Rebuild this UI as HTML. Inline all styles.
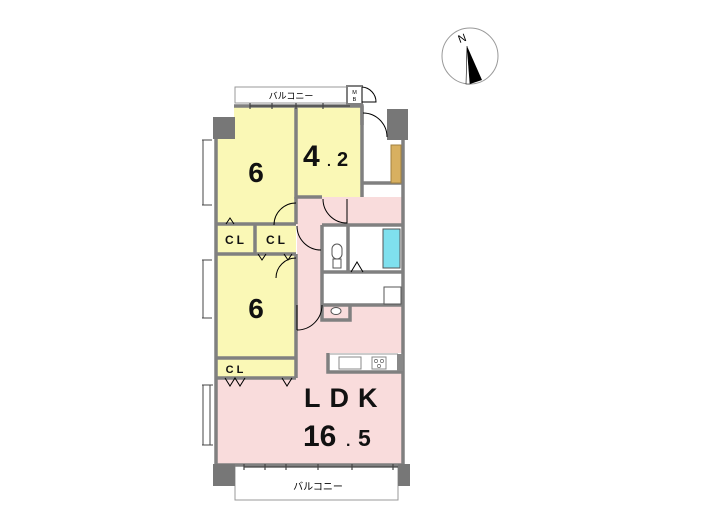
<!DOCTYPE html>
<html><head><meta charset="utf-8"><style>
html,body{margin:0;padding:0;background:#fff;}
svg{display:block;}
text{font-family:"Liberation Sans","Noto Sans CJK JP",sans-serif;}
</style></head><body>
<svg width="705" height="525" viewBox="0 0 705 525" xmlns="http://www.w3.org/2000/svg">
<!-- compass -->
<circle cx="470" cy="56" r="28" fill="none" stroke="#999" stroke-width="1"/>
<text x="458" y="42" font-family="Liberation Serif,serif" font-size="11" fill="#000" transform="rotate(-20 462 38)">N</text>
<polygon points="467,46 482,80 470,84" fill="#000"/>
<polygon points="467,46 470,84 466,84" fill="#fff" stroke="#000" stroke-width="0.6"/>

<!-- top balcony -->
<rect x="235" y="87" width="112" height="16" fill="#fff" stroke="#999" stroke-width="1"/>
<text x="291" y="99" font-size="9" text-anchor="middle" fill="#000">バルコニー</text>
<rect x="347" y="86" width="15" height="18" fill="#fff" stroke="#808080" stroke-width="2"/>
<text x="354.5" y="94" font-size="5.5" text-anchor="middle">M</text>
<text x="354.5" y="101" font-size="5.5" text-anchor="middle">B</text>
<path d="M362,87 A15,15 0 0 1 376,102 L362,102" fill="none" stroke="#000" stroke-width="1"/>
<!-- bottom balcony -->
<rect x="235" y="466" width="163" height="34" fill="#fff" stroke="#999" stroke-width="1"/>
<text x="318" y="490" font-size="10" text-anchor="middle">バルコニー</text>

<!-- fills -->
<rect x="234" y="106" width="62" height="118" fill="#faf8b6"/>
<rect x="216" y="137" width="80" height="87" fill="#faf8b6"/>
<rect x="296" y="106" width="66" height="91" fill="#faf8b6"/>
<rect x="296" y="197" width="107" height="28" fill="#f9dcdc"/>
<rect x="362" y="106" width="41" height="77" fill="#fff"/>
<rect x="297" y="225" width="25" height="130" fill="#f9dcdc"/>
<rect x="216" y="224" width="80" height="30" fill="#faf8b6"/>
<rect x="216" y="305" width="187" height="160" fill="#f9dcdc"/>
<rect x="216" y="358" width="80" height="20" fill="#faf8b6"/>
<rect x="216" y="254" width="80" height="104" fill="#faf8b6"/>
<rect x="322" y="225" width="81" height="80" fill="#fff"/>
<rect x="297" y="305" width="25" height="50" fill="#f9dcdc"/>
<rect x="328" y="353" width="75" height="19" fill="#fff"/>

<!-- walls -->
<g fill="none" stroke="#808080" stroke-width="3.5">
<path d="M216,137 V465 H403 V140"/>
<path d="M234,106 H362 V197"/>
<path d="M296,106 V197 H322"/>
<path d="M296,197 V224"/>
<path d="M216,224 H296 M216,254 H296 M255,224 V254"/>
<path d="M296,254 V358 M216,358 H296 M216,378 H296 M296,358 V378"/>
<path d="M322,225 V305 M322,225 H403 M348,225 V272 M322,272 H403 M322,305 H403"/>
<path d="M322,305 V320 H350 V305"/>
<path d="M362,183 H403"/>
<path d="M328,353 V372 H403"/>
<path d="M362,106 V125"/>
</g>
<path d="M330,354 H398" stroke="#999" stroke-width="1"/>
<!-- pillars -->
<rect x="213" y="117" width="22" height="22" fill="#777"/>
<rect x="387" y="109" width="21" height="31" fill="#777"/>
<rect x="213" y="464" width="22" height="22" fill="#777"/>
<rect x="398" y="464" width="12" height="22" fill="#777"/>
<rect x="397" y="354" width="6" height="17" fill="#888"/>
<!-- storage stripe -->
<rect x="391" y="145" width="10" height="38" fill="#d8b060" stroke="#a08040" stroke-width="1"/>
<!-- windows left -->
<g stroke="#444" stroke-width="1" fill="none">
<path d="M203,140 V205 M202,140 H212 M202,205 H212"/>
<path d="M203,260 V318 M202,260 H212 M202,318 H212"/>
<path d="M203,385 V445 M210,385 V445 M202,385 H213 M202,445 H213"/>
</g>
<!-- doors -->
<g stroke="#000" stroke-width="1" fill="none">
<path d="M363,113 A24,24 0 0 1 387,137"/>
<path d="M296,203 A22,22 0 0 0 274,225"/>
<path d="M323,199 A24,24 0 0 0 347,223 V199"/>
<path d="M297,226 A24,24 0 0 0 321,250"/>
<path d="M296,258 A20,20 0 0 0 276,278"/>
<path d="M297,330 A25,25 0 0 0 322,305"/>
<path d="M297,330 V305"/>
<path d="M226,224 L230,218 L234,224"/>
<path d="M258,254 L262,260 L266,254 M284,254 L288,260 L292,254"/>
<path d="M225,378 L230,386 L235,378 L240,386 L245,378 M282,378 L287,386 L292,378"/>
<path d="M351,272 L357,262 L363,272"/>
</g>
<!-- bath, toilet, fixtures -->
<rect x="383" y="229" width="17" height="39" fill="#7fe0ee" stroke="#555" stroke-width="1"/>
<rect x="332" y="244" width="10" height="15" rx="5" fill="#fff" stroke="#555" stroke-width="1"/>
<rect x="333" y="259" width="8" height="9" fill="#fff" stroke="#555" stroke-width="1"/>
<rect x="384" y="287" width="17" height="17" fill="#fff" stroke="#555" stroke-width="1"/>
<ellipse cx="336" cy="311" rx="5" ry="3.5" fill="#fff" stroke="#555" stroke-width="1"/>
<rect x="339" y="357" width="22" height="12" fill="#fff" stroke="#888" stroke-width="1"/>
<rect x="372" y="357" width="14" height="12" fill="#fff" stroke="#888" stroke-width="1"/>
<circle cx="376" cy="361" r="1.6" fill="none" stroke="#666" stroke-width="0.7"/>
<circle cx="382" cy="361" r="1.6" fill="none" stroke="#666" stroke-width="0.7"/>
<circle cx="379" cy="366" r="1.6" fill="none" stroke="#666" stroke-width="0.7"/>
<!-- window ticks -->
<g stroke="#444" stroke-width="1.2">
<path d="M244,467 H398 M244,464 V470 M265,464 V470 M286,464 V470 M318,464 V470 M352,464 V470 M393,464 V470"/>
<path d="M250,106 H350 M250,103 V109 M272,103 V109 M296,103 V109 M323,103 V109"/>
</g>
<!-- labels -->
<g font-weight="bold" fill="#111">
<text x="256" y="182" font-size="28" text-anchor="middle">6</text>
<text x="303" y="166" font-size="30">4</text>
<text x="327" y="166" font-size="14">.</text>
<text x="337" y="166" font-size="20">2</text>
<text x="256" y="318" font-size="28" text-anchor="middle">6</text>
<text x="236" y="244" font-size="12" text-anchor="middle" letter-spacing="3">CL</text>
<text x="277" y="244" font-size="12" text-anchor="middle" letter-spacing="3">CL</text>
<text x="236" y="373" font-size="11" text-anchor="middle" letter-spacing="3">CL</text>
<text x="304" y="407" font-size="27" letter-spacing="9">LDK</text>
<text x="303" y="446" font-size="30">16</text>
<text x="346" y="446" font-size="16">.</text>
<text x="358" y="446" font-size="23">5</text>
</g>
</svg>
</body></html>
